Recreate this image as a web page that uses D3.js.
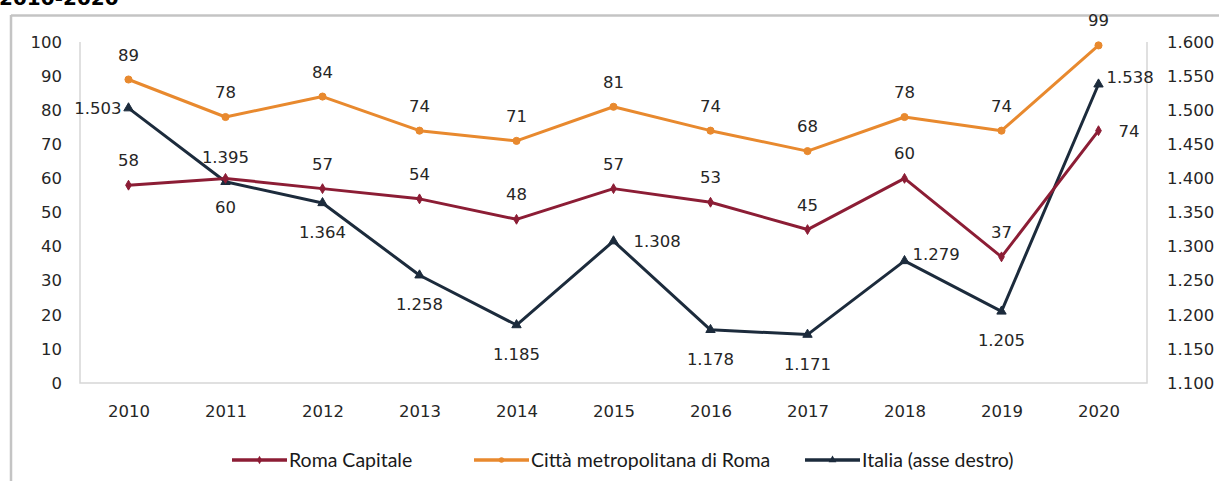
<!DOCTYPE html>
<html>
<head>
<meta charset="utf-8">
<script src="https://cdn.jsdelivr.net/npm/d3@7/dist/d3.min.js"></script>
<style>
  html, body { margin: 0; padding: 0; background: #ffffff; }
  svg { display: block; }
</style>
</head>
<body>
<svg id="chart" width="1219" height="481"></svg>
<script>
// Anni sull'asse orizzontale
const years = ["2010", "2011", "2012", "2013", "2014", "2015", "2016", "2017", "2018", "2019", "2020"];

// Serie sull'asse sinistro
const romaCapitale = [58, 60, 57, 54, 48, 57, 53, 45, 60, 37, 74];
const cittaMetropolitana = [89, 78, 84, 74, 71, 81, 74, 68, 78, 74, 99];

// Serie sull'asse destro
const italia = [1503, 1395, 1364, 1258, 1185, 1308, 1178, 1171, 1279, 1205, 1538];

// Tacche degli assi
const leftTicks = [0, 10, 20, 30, 40, 50, 60, 70, 80, 90, 100];
const rightTicks = [1100, 1150, 1200, 1250, 1300, 1350, 1400, 1450, 1500, 1550, 1600];

const seriesNames = ["Roma Capitale", "Città metropolitana di Roma", "Italia (asse destro)"];
const titleText = "2010-2020";

// Posizione delle etichette dei valori (t = sopra, b = sotto, l = sinistra, r = destra, ru = destra in alto)
const romaLabelPos = ["t", "b", "t", "t", "t", "t", "t", "t", "t", "t", "r"];
const cittaLabelPos = ["t", "t", "t", "t", "t", "t", "t", "t", "t", "t", "t"];
const italiaLabelPos = ["l", "t", "b", "b", "b", "r", "b", "b", "ru", "b", "ru"];

const it = d3.formatLocale({ decimal: ",", thousands: ".", grouping: [3], currency: ["€", ""] });
const fmtThousands = it.format(",d");

const svg = d3.select("#chart");
const W = 1219, H = 481;
const plot = { left: 80, right: 1147, top: 42, bottom: 383 };

const colors = { roma: "#8c1d35", citta: "#e8892e", italia: "#1c2b3c" };
const tickFont = "'DejaVu Sans', Verdana, sans-serif";
const legendFont = "Lato, 'Open Sans', sans-serif";
const fs = 16.5;

// Titolo (tagliato dal bordo superiore)
svg.append("text")
  .attr("x", -1).attr("y", 5)
  .attr("font-family", tickFont)
  .attr("font-weight", "bold")
  .attr("font-size", 20)
  .attr("fill", "#000")
  .text(titleText);

// Cornice del grafico
svg.append("line").attr("x1", 11).attr("x2", W).attr("y1", 15.5).attr("y2", 15.5)
  .attr("stroke", "#c4c4c4").attr("stroke-width", 2.5);
svg.append("line").attr("x1", 11).attr("x2", 11).attr("y1", 15).attr("y2", H)
  .attr("stroke", "#c4c4c4").attr("stroke-width", 2.5);

const x = d3.scalePoint().domain(years).range([128.5, 1098.5]);
const yL = d3.scaleLinear().domain([0, 100]).range([plot.bottom, plot.top]);
const yR = d3.scaleLinear().domain([1100, 1600]).range([plot.bottom, plot.top]);

// Bordo dell'area del grafico (sinistra, basso, destra)
const frame = svg.append("g").attr("stroke", "#d6d6d6").attr("stroke-width", 1.5).attr("fill", "none");
frame.append("path")
  .attr("d", `M${plot.left},${plot.top}V${plot.bottom}H${plot.right}V${plot.top}`);

function styleTicks(g) {
  g.select(".domain").remove();
  g.attr("font-family", null).attr("font-size", null);
  g.selectAll("text").attr("font-family", tickFont).attr("font-size", fs).attr("fill", "#262626");
}

// Asse sinistro
const axisL = d3.axisLeft(yL).tickValues(leftTicks).tickSize(0).tickPadding(0).tickFormat(d3.format("d"));
svg.append("g").attr("transform", `translate(62,0)`).call(axisL).call(styleTicks);

// Asse destro
const axisR = d3.axisRight(yR).tickValues(rightTicks).tickSize(0).tickPadding(0).tickFormat(fmtThousands);
svg.append("g").attr("transform", `translate(1167,0)`).call(axisR).call(styleTicks);

// Asse orizzontale
const axisB = d3.axisBottom(x).tickSize(0).tickPadding(0);
svg.append("g").attr("transform", `translate(0,405)`).call(axisB).call(styleTicks);

// Simboli dei marcatori
const symRoma = d3.symbol().type(d3.symbolDiamond).size(28);
const symCitta = d3.symbol().type(d3.symbolCircle).size(40);
const symItalia = d3.symbol().type(d3.symbolTriangle).size(38);

function drawSeries(values, yScale, color, sym, fmt, positions) {
  const g = svg.append("g");
  const line = d3.line().x((d, i) => x(years[i])).y(d => yScale(d));
  g.append("path").datum(values)
    .attr("fill", "none").attr("stroke", color).attr("stroke-width", 3)
    .attr("stroke-linejoin", "round").attr("d", line);
  g.selectAll("path.m").data(values).join("path").attr("class", "m")
    .attr("transform", (d, i) => `translate(${x(years[i])},${yScale(d)})`)
    .attr("d", sym).attr("fill", color).attr("stroke", color).attr("stroke-width", 1);
  g.selectAll("text").data(values).join("text")
    .attr("font-family", tickFont).attr("font-size", fs).attr("fill", "#262626")
    .attr("x", (d, i) => {
      const px = x(years[i]), p = positions[i];
      if (p === "l") return px - 7;
      if (p === "r") return px + 20;
      if (p === "ru") return px + 8;
      return px;
    })
    .attr("y", (d, i) => {
      const py = yScale(d), p = positions[i];
      if (p === "t") return py - 19;
      if (p === "b") return py + 35;
      if (p === "ru") return py - 1;
      return py + 6;
    })
    .attr("text-anchor", (d, i) => {
      const p = positions[i];
      if (p === "l") return "end";
      if (p === "r" || p === "ru") return "start";
      return "middle";
    })
    .text(d => fmt(d));
}

drawSeries(cittaMetropolitana, yL, colors.citta, symCitta, d3.format("d"), cittaLabelPos);
drawSeries(italia, yR, colors.italia, symItalia, fmtThousands, italiaLabelPos);
drawSeries(romaCapitale, yL, colors.roma, symRoma, d3.format("d"), romaLabelPos);

// Legenda
const legendItems = [
  { name: seriesNames[0], color: colors.roma, sym: d3.symbol().type(d3.symbolDiamond).size(22), x0: 232 },
  { name: seriesNames[1], color: colors.citta, sym: d3.symbol().type(d3.symbolCircle).size(24), x0: 474 },
  { name: seriesNames[2], color: colors.italia, sym: d3.symbol().type(d3.symbolTriangle).size(26), x0: 805 }
];
const legY = 460;
const lg = svg.append("g");
legendItems.forEach(item => {
  lg.append("line").attr("x1", item.x0).attr("x2", item.x0 + 55).attr("y1", legY).attr("y2", legY)
    .attr("stroke", item.color).attr("stroke-width", 3.5);
  lg.append("path").attr("transform", `translate(${item.x0 + 27.5},${legY})`)
    .attr("d", item.sym).attr("fill", item.color);
  lg.append("text").attr("x", item.x0 + 57).attr("y", legY + 6.5)
    .attr("font-family", legendFont).attr("font-size", 19.5).attr("fill", "#1a1a1a")
    .text(item.name);
});
</script>
</body>
</html>
